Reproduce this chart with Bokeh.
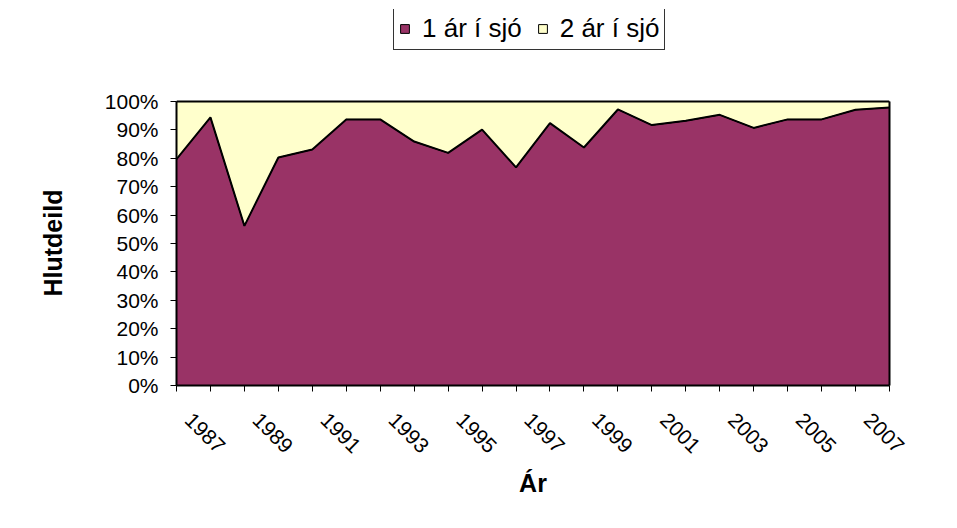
from math import pi
from bokeh.plotting import figure
from bokeh.models import Range1d, FixedTicker, Legend, LegendItem, LinearAxis, Title
from bokeh.embed import file_html
from bokeh.resources import INLINE

# ---- data ----
years = list(range(1986, 2008))
one_year_sea = [79.7, 94.4, 56.2, 80.3, 83.1, 93.7, 93.7, 85.9, 81.9, 90.1, 76.8,
                92.4, 83.8, 97.2, 91.7, 93.2, 95.3, 90.7, 93.7, 93.7, 97.1, 97.9]
two_year_sea = [20.3, 5.6, 43.8, 19.7, 16.9, 6.3, 6.3, 14.1, 18.1, 9.9, 23.2,
                7.6, 16.2, 2.8, 8.3, 6.8, 4.7, 9.3, 6.3, 6.3, 2.9, 2.1]
series_names = ["1 ár í sjó", "2 ár í sjó"]
x_tick_years = [1987, 1989, 1991, 1993, 1995, 1997, 1999, 2001, 2003, 2005, 2007]
x_tick_labels = ["1987", "1989", "1991", "1993", "1995", "1997", "1999", "2001", "2003", "2005", "2007"]
y_ticks = [0, 10, 20, 30, 40, 50, 60, 70, 80, 90, 100]
y_tick_labels = ["0%", "10%", "20%", "30%", "40%", "50%", "60%", "70%", "80%", "90%", "100%"]

PURPLE = "#993366"
YELLOW = "#FFFFCC"
FONT = "Liberation Sans"
LABEL_SHIFT = 0.65   # rotated labels sit slightly left of their tick, as in the original
Y_TOP = 132.4        # frame reaches above 100% so the legend can sit over the plot

p = figure(width=941, height=512, output_backend="svg", toolbar_location=None,
           x_range=Range1d(years[0], years[-1]), y_range=Range1d(0, Y_TOP),
           min_border_left=176, min_border_right=52, min_border_top=9, min_border_bottom=127)
p.grid.visible = False
p.outline_line_color = None
p.background_fill_color = "white"
p.border_fill_color = "white"

# stacked areas (100%)
bottom1 = [0 for _ in years]
top1 = [b + v for b, v in zip(bottom1, one_year_sea)]
top2 = [b + v for b, v in zip(top1, two_year_sea)]
xs = years + years[::-1]
r1 = p.patch(x=xs, y=top1 + bottom1[::-1], fill_color=PURPLE, line_color="black", line_width=1)
r2 = p.patch(x=xs, y=top2 + top1[::-1], fill_color=YELLOW, line_color="black", line_width=1)
p.line(x=years, y=top1, line_color="black", line_width=2)
p.line(x=years, y=top2, line_color="black", line_width=2)

# y axis
ya = p.yaxis[0]
ya.bounds = (0, 100)
ya.ticker = FixedTicker(ticks=y_ticks)
ya.major_label_overrides = {t: l for t, l in zip(y_ticks, y_tick_labels)}
ya.major_tick_out = 6
ya.major_tick_in = 0
ya.minor_tick_out = 0
ya.minor_tick_in = 0
ya.major_tick_line_color = "black"
ya.axis_line_color = "black"
ya.axis_line_width = 2
ya.major_label_standoff = 12
ya.major_label_text_font = FONT
ya.major_label_text_font_size = "21px"
ya.major_label_text_color = "black"

# y-axis title, placed over the 0-100% span
p.add_layout(Title(text="Hlutdeild", align="left", offset=89, standoff=70,
                   text_font=FONT, text_font_size="25px", text_font_style="bold",
                   text_color="black"), "left")

# right edge of the plot area
ra = LinearAxis(bounds=(0, 100), ticker=FixedTicker(ticks=[]),
                axis_line_color="black", axis_line_width=2,
                major_tick_out=0, major_tick_in=0, minor_tick_out=0, minor_tick_in=0)
p.add_layout(ra, "right")

# x axis: a tick on every year, rotated labels on odd years
label_pos = [yr - LABEL_SHIFT for yr in x_tick_years]
xa = p.xaxis[0]
xa.ticker = FixedTicker(ticks=label_pos, minor_ticks=years)
xa.major_label_overrides = {t: l for t, l in zip(label_pos, x_tick_labels)}
xa.major_label_orientation = -pi / 4
xa.major_label_standoff = 25
xa.major_label_text_font = FONT
xa.major_label_text_font_size = "21px"
xa.major_label_text_color = "black"
xa.major_tick_out = 0
xa.major_tick_in = 0
xa.minor_tick_out = 6
xa.minor_tick_in = 0
xa.minor_tick_line_color = "black"
xa.axis_line_color = "black"
xa.axis_line_width = 2
xa.axis_label = "Ár"
xa.axis_label_text_font = FONT
xa.axis_label_text_font_size = "25px"
xa.axis_label_text_font_style = "bold"
xa.axis_label_text_color = "black"
xa.axis_label_standoff = 7

legend = Legend(items=[LegendItem(label=series_names[0], renderers=[r1]),
                       LegendItem(label=series_names[1], renderers=[r2])],
                orientation="horizontal", location=(217, 335), margin=0,
                padding=5, spacing=15, label_standoff=12,
                glyph_width=11, glyph_height=11,
                label_text_font=FONT, label_text_font_size="26px", label_text_color="black",
                border_line_color="#333333", border_line_width=1, border_line_alpha=1,
                background_fill_color="white", background_fill_alpha=1)
p.add_layout(legend, "center")

open("out.html", "w").write(file_html(p, INLINE))
